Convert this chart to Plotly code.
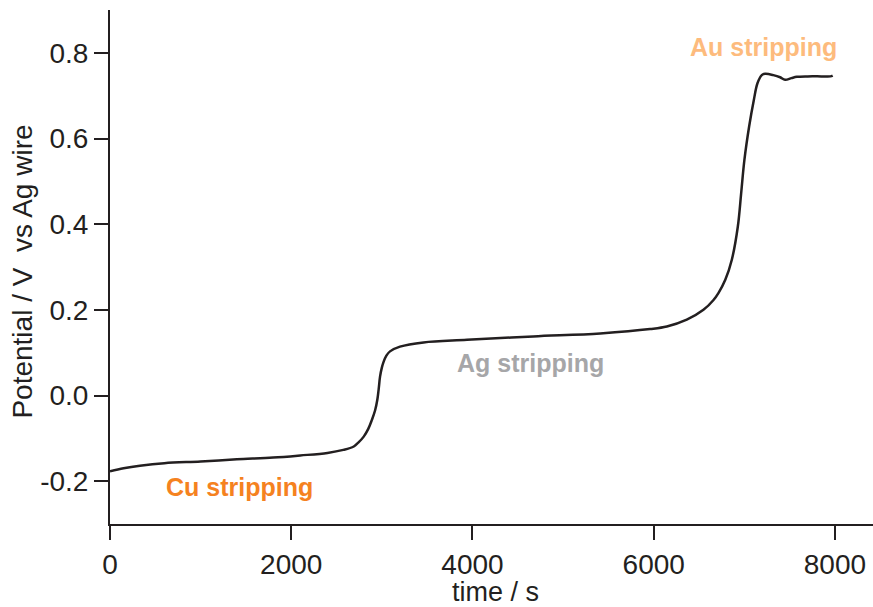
import plotly.graph_objects as go

# Chronopotentiometric stripping curve
time_s = [0, 150, 330, 600, 1000, 1400, 1800, 2100, 2400, 2575, 2690, 2740,
          2800, 2850, 2890, 2925, 2950, 2965, 2980, 3000, 3020, 3050, 3090,
          3200, 3460, 3940, 4670, 5410, 5960, 6145, 6365, 6549, 6660, 6714,
          6790, 6862, 6928, 6965, 7001, 7053, 7105, 7145, 7193, 7230, 7320,
          7395, 7450, 7520, 7580, 7700, 7850, 7950, 7975]
potential_v = [-0.177, -0.170, -0.164, -0.158, -0.154, -0.149, -0.145, -0.140,
               -0.134, -0.127, -0.119, -0.110, -0.096, -0.078, -0.057, -0.035,
               -0.010, 0.015, 0.044, 0.065, 0.079, 0.093, 0.103, 0.114, 0.124,
               0.130, 0.138, 0.145, 0.155, 0.161, 0.177, 0.200, 0.223, 0.239,
               0.270, 0.317, 0.394, 0.472, 0.550, 0.628, 0.690, 0.729, 0.748,
               0.751, 0.748, 0.743, 0.737, 0.741, 0.744, 0.745, 0.745, 0.745,
               0.747]

# Stripping-region labels (text, x, y, colour)
label_text = ["Cu stripping", "Ag stripping", "Au stripping"]
label_x = [1430, 4640, 7207]
label_y = [-0.214, 0.077, 0.8125]
label_color = ["#F5821F", "#A6A6A8", "#FDBB7D"]

x_ticks = [0, 2000, 4000, 6000, 8000]
y_ticks = [-0.2, 0.0, 0.2, 0.4, 0.6, 0.8]
y_tick_text = ["-0.2", "0.0", "0.2", "0.4", "0.6", "0.8"]

INK = "#231F20"
FONT = "Liberation Sans, Arial, sans-serif"
TICK_SIZE = 28
TITLE_SIZE = 28

fig = go.Figure()
fig.add_trace(go.Scatter(
    x=time_s, y=potential_v, mode="lines",
    line=dict(color=INK, width=2.5, shape="spline", smoothing=1.0),
    hoverinfo="skip", showlegend=False,
))

for txt, lx, ly, col in zip(label_text, label_x, label_y, label_color):
    fig.add_annotation(
        x=lx, y=ly, xref="x", yref="y", text="<b>%s</b>" % txt,
        showarrow=False, xanchor="center", yanchor="middle",
        font=dict(family=FONT, size=25, color=col),
    )

# Axis titles
fig.add_annotation(
    x=0.505, y=-0.133, xref="paper", yref="paper", text="time / s",
    showarrow=False, xanchor="center", yanchor="middle",
    font=dict(family=FONT, size=TITLE_SIZE - 1, color=INK),
)
fig.add_annotation(
    x=-0.1147, y=0.492, xref="paper", yref="paper",
    text="Potential / V\u00a0\u00a0vs Ag wire", textangle=-90,
    showarrow=False, xanchor="center", yanchor="middle",
    font=dict(family=FONT, size=TITLE_SIZE, color=INK),
)

fig.update_layout(
    width=873, height=607,
    margin=dict(l=110, r=0, t=10, b=83),
    paper_bgcolor="white", plot_bgcolor="white",
    font=dict(family=FONT, size=TICK_SIZE, color=INK),
    showlegend=False,
)
fig.update_xaxes(
    range=[0, 8420], tickvals=x_ticks, ticks="outside", ticklen=14,
    tickwidth=2, tickcolor=INK, showline=True, linecolor=INK, linewidth=2,
    showgrid=False, zeroline=False, mirror=False,
    tickfont=dict(family=FONT, size=TICK_SIZE, color=INK),
)
fig.update_yaxes(
    range=[-0.3, 0.9], tickvals=y_ticks, ticktext=y_tick_text, ticks="outside",
    ticklen=14, tickwidth=2, tickcolor=INK, showline=True, linecolor=INK,
    linewidth=2, showgrid=False, zeroline=False, mirror=False,
    tickfont=dict(family=FONT, size=TICK_SIZE, color=INK),
)

fig.write_html("out.html")
